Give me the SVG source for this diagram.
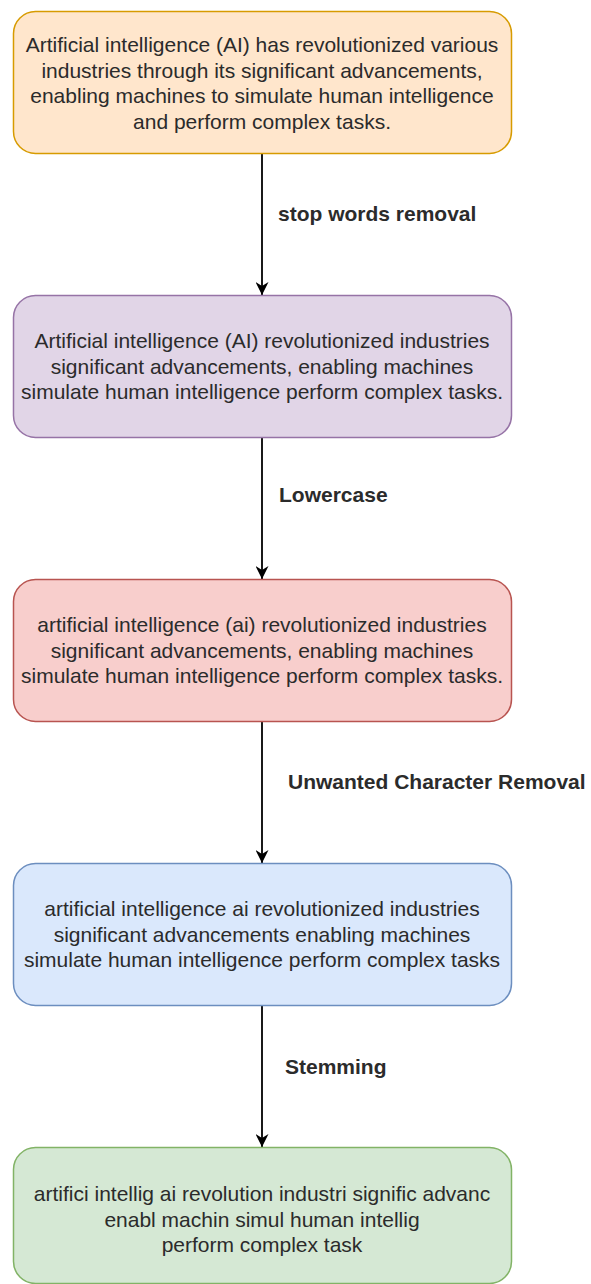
<svg xmlns="http://www.w3.org/2000/svg" width="591" height="1284" viewBox="0 0 591 1284">
<style>
.box{stroke-width:1.5}
.t{font-family:"Liberation Sans",Arial,sans-serif;font-size:21px;fill:#2b2b2b;text-anchor:middle}
.lbl{font-family:"Liberation Sans",Arial,sans-serif;font-size:21px;font-weight:bold;fill:#2b2b2b}
.edge{stroke:#000;stroke-width:1.8;fill:none}
</style>
<defs>
<marker id="ah" viewBox="0 0 10 10" refX="10" refY="5" markerWidth="13" markerHeight="13" markerUnits="userSpaceOnUse" orient="auto">
<path d="M0,0 L10,5 L0,10 L3,5 Z" fill="#000"/>
</marker>
</defs>
<rect width="591" height="1284" fill="#fff"/>
<g id="connectors">
<line class="edge" x1="262" y1="154" x2="262" y2="295" marker-end="url(#ah)"/>
<line class="edge" x1="262" y1="438" x2="262" y2="579" marker-end="url(#ah)"/>
<line class="edge" x1="262" y1="722" x2="262" y2="863" marker-end="url(#ah)"/>
<line class="edge" x1="262" y1="1006" x2="262" y2="1147" marker-end="url(#ah)"/>
<text class="lbl" x="278" y="221">stop words removal</text>
<text class="lbl" x="279" y="502">Lowercase</text>
<text class="lbl" x="288" y="789">Unwanted Character Removal</text>
<text class="lbl" x="285" y="1074">Stemming</text>
</g>
<g id="n1">
<rect class="box" x="13.5" y="11.5" width="498" height="142" rx="22" fill="#ffe6cc" stroke="#d79b00"/>
<text class="t" x="262" y="52">Artificial intelligence (AI) has revolutionized various</text>
<text class="t" x="262" y="77.5">industries through its significant advancements,</text>
<text class="t" x="262" y="103">enabling machines to simulate human intelligence</text>
<text class="t" x="262" y="128.5">and perform complex tasks.</text>
</g>
<g id="n2">
<rect class="box" x="13.5" y="295.5" width="498" height="142" rx="22" fill="#e1d5e7" stroke="#9673a6"/>
<text class="t" x="262" y="348">Artificial intelligence (AI) revolutionized industries</text>
<text class="t" x="262" y="373.5">significant advancements, enabling machines</text>
<text class="t" x="262" y="399">simulate human intelligence perform complex tasks.</text>
</g>
<g id="n3">
<rect class="box" x="13.5" y="579.5" width="498" height="142" rx="22" fill="#f8cecc" stroke="#b85450"/>
<text class="t" x="262" y="632">artificial intelligence (ai) revolutionized industries</text>
<text class="t" x="262" y="657.5">significant advancements, enabling machines</text>
<text class="t" x="262" y="683">simulate human intelligence perform complex tasks.</text>
</g>
<g id="n4">
<rect class="box" x="13.5" y="863.5" width="498" height="142" rx="22" fill="#dae8fc" stroke="#6c8ebf"/>
<text class="t" x="262" y="916">artificial intelligence ai revolutionized industries</text>
<text class="t" x="262" y="941.5">significant advancements enabling machines</text>
<text class="t" x="262" y="967">simulate human intelligence perform complex tasks</text>
</g>
<g id="n5">
<rect class="box" x="13.5" y="1147.5" width="498" height="136" rx="22" fill="#d5e8d4" stroke="#82b366"/>
<text class="t" x="262" y="1201">artifici intellig ai revolution industri signific advanc</text>
<text class="t" x="262" y="1226.5">enabl machin simul human intellig</text>
<text class="t" x="262" y="1252">perform complex task</text>
</g>
</svg>
